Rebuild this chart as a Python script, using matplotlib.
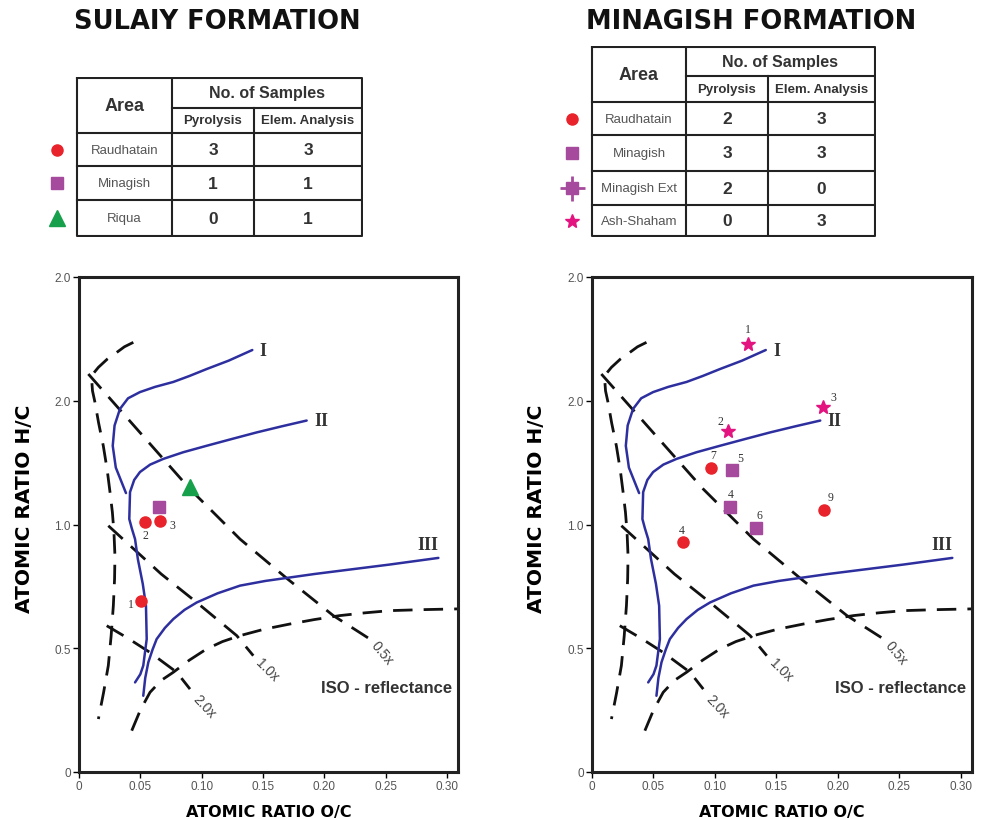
import matplotlib
matplotlib.use("Agg")
import matplotlib.pyplot as plt

plt.rcParams['font.family'] = ['Liberation Sans', 'DejaVu Sans']

# ---- table data ----
sul_areas = ["Raudhatain", "Minagish", "Riqua"]
sul_pyro = [3, 1, 0]
sul_elem = [3, 1, 1]
min_areas = ["Raudhatain", "Minagish", "Minagish Ext", "Ash-Shaham"]
min_pyro = [2, 3, 2, 0]
min_elem = [3, 3, 0, 3]

# ---- van Krevelen reference curves (O/C, H/C) ----
type1_x = [0.0383, 0.0300, 0.0275, 0.0290, 0.0334, 0.0400, 0.0497, 0.0620, 0.0769, 0.0900, 0.1040, 0.1220, 0.1413]
type1_y = [1.127, 1.230, 1.318, 1.400, 1.467, 1.510, 1.535, 1.556, 1.576, 1.600, 1.628, 1.662, 1.705]
type2_x = [0.0457, 0.0500, 0.0524, 0.0552, 0.0546, 0.0520, 0.0480, 0.0457, 0.0430, 0.0410, 0.0416, 0.0450,
           0.0497, 0.0580, 0.0687, 0.0850, 0.1040, 0.1250, 0.1448, 0.1656, 0.1856]
type2_y = [0.362, 0.395, 0.430, 0.537, 0.672, 0.760, 0.860, 0.941, 0.985, 1.022, 1.131, 1.180,
           1.212, 1.242, 1.265, 1.292, 1.318, 1.346, 1.372, 1.397, 1.420]
type3_x = [0.0524, 0.0540, 0.0565, 0.0600, 0.0633, 0.0700, 0.0769, 0.0860, 0.0960, 0.1130, 0.1313, 0.1520,
           0.1720, 0.1920, 0.2128, 0.2530, 0.2930]
type3_y = [0.308, 0.380, 0.443, 0.495, 0.537, 0.582, 0.618, 0.655, 0.685, 0.722, 0.753, 0.772,
           0.786, 0.800, 0.813, 0.838, 0.865]

# ---- dashed boundaries and iso-reflectance lines ----
bound_top_x = [0.0443, 0.0370, 0.0307, 0.0230, 0.0158, 0.0120, 0.0103, 0.0110, 0.0130, 0.0160, 0.0198, 0.0230,
               0.0253, 0.0272, 0.0285, 0.0293, 0.0290, 0.0280, 0.0262, 0.0239, 0.0200, 0.0158]
bound_top_y = [1.736, 1.718, 1.695, 1.668, 1.635, 1.612, 1.588, 1.540, 1.494, 1.410, 1.318, 1.220,
               1.130, 1.050, 0.968, 0.874, 0.780, 0.672, 0.550, 0.430, 0.320, 0.214]
bound_low_x = [0.0430, 0.0500, 0.0579, 0.0670, 0.0769, 0.0900, 0.1040, 0.1170, 0.1313, 0.1510, 0.1720, 0.1920,
               0.2128, 0.2330, 0.2535, 0.2800, 0.3090]
bound_low_y = [0.167, 0.250, 0.322, 0.370, 0.403, 0.452, 0.497, 0.527, 0.551, 0.577, 0.598, 0.616,
               0.632, 0.643, 0.652, 0.656, 0.659]
iso05_x = [0.0076, 0.0500, 0.0905, 0.1313, 0.1700, 0.2073, 0.2372]
iso05_y = [1.608, 1.370, 1.143, 0.941, 0.780, 0.632, 0.537]
iso10_x = [0.0239, 0.0389, 0.0670, 0.0960, 0.1286, 0.1421]
iso10_y = [0.995, 0.927, 0.800, 0.685, 0.551, 0.470]
iso20_x = [0.0226, 0.0400, 0.0579, 0.0797, 0.0905]
iso20_y = [0.591, 0.540, 0.483, 0.403, 0.335]

# ---- samples ----
sul_raud_x = [0.0503, 0.0538, 0.0660]
sul_raud_y = [0.692, 1.009, 1.015]
sul_raud_lab = ["1", "2", "3"]
sul_raud_off = [(-10, -3), (0, -13), (12, -4)]
sul_min_x = [0.0655]
sul_min_y = [1.069]
sul_riq_x = [0.0905]
sul_riq_y = [1.150]

min_raud_x = [0.0965, 0.1886, 0.0737]
min_raud_y = [1.227, 1.060, 0.928]
min_raud_lab = ["7", "9", "4"]
min_raud_off = [(3, 13), (7, 13), (-1, 12)]
min_min_x = [0.1136, 0.1122, 0.1331]
min_min_y = [1.220, 1.069, 0.984]
min_min_lab = ["5", "4", "6"]
min_min_off = [(9, 12), (1, 13), (4, 13)]
min_ash_x = [0.1271, 0.1108, 0.1880]
min_ash_y = [1.729, 1.377, 1.473]
min_ash_lab = ["1", "2", "3"]
min_ash_off = [(0, 15), (-8, 10), (10, 10)]

xticks = [0, 0.05, 0.10, 0.15, 0.20, 0.25, 0.30]
xtick_labels = ["0", "0.05", "0.10", "0.15", "0.20", "0.25", "0.30"]
yticks = [0, 0.5, 1.0, 1.5, 2.0]
ytick_labels = ["0", "0.5", "1.0", "2.0", "2.0"]

RED = '#e8232b'
PURPLE = '#a54a9c'
GREEN = '#16a04b'
PINK = '#e3137f'
BLUE = '#2e2f9f'

W, H = 982, 820
fig = plt.figure(figsize=(W / 100, H / 100), dpi=100)


def px_axes(x0, y0, x1, y1):
    return fig.add_axes([x0 / W, 1 - y1 / H, (x1 - x0) / W, (y1 - y0) / H])


def draw_table(ax, cols, rows, areas, pyro, elem, markers):
    lw = 1.5
    left, c1, c2, right = cols
    top, sub = rows[0], rows[1]
    bottom = rows[-1]
    ax.set_xlim(cols[0] - 40, right + 1)
    ax.set_ylim(bottom + 1, top - 1)
    ax.axis('off')
    # outer frame + vertical dividers
    ax.plot([left, right, right, left, left], [top, top, bottom, bottom, top], color='#222', lw=lw)
    ax.plot([c1, c1], [top, bottom], color='#222', lw=lw)
    ax.plot([c2, c2], [sub, bottom], color='#222', lw=lw)
    ax.plot([c1, right], [sub, sub], color='#222', lw=lw)
    for r in rows[2:-1]:
        ax.plot([left, right], [r, r], color='#222', lw=lw)
    ax.text((left + c1) / 2, (top + rows[2]) / 2, "Area", ha='center', va='center',
            fontsize=13, fontweight='bold', color='#333')
    ax.text((c1 + right) / 2, (top + sub) / 2, "No. of Samples", ha='center', va='center',
            fontsize=11.5, fontweight='bold', color='#333')
    ax.text((c1 + c2) / 2, (sub + rows[2]) / 2, "Pyrolysis", ha='center', va='center',
            fontsize=9.5, fontweight='bold', color='#333')
    ax.text((c2 + right) / 2, (sub + rows[2]) / 2, "Elem. Analysis", ha='center', va='center',
            fontsize=9.5, fontweight='bold', color='#333')
    for i, name in enumerate(areas):
        yc = (rows[i + 2] + rows[i + 3]) / 2
        ax.text((left + c1) / 2, yc, name, ha='center', va='center', fontsize=9.5, color='#555')
        ax.text((c1 + c2) / 2, yc, str(pyro[i]), ha='center', va='center',
                fontsize=12.5, fontweight='bold', color='#333')
        ax.text((c2 + right) / 2, yc, str(elem[i]), ha='center', va='center',
                fontsize=12.5, fontweight='bold', color='#333')
        for m in markers[i]:
            ax.plot(left - 20, yc, clip_on=False, **m)


def draw_reference(ax):
    ax.set_xlim(0, 0.309)
    ax.set_ylim(0, 2.0)
    for s in ax.spines.values():
        s.set_linewidth(2.2)
        s.set_color('#222')
    ax.set_xticks(xticks)
    ax.set_xticklabels(xtick_labels)
    ax.set_yticks(yticks)
    ax.set_yticklabels(ytick_labels)
    ax.tick_params(direction='out', length=4, width=1, labelsize=8.5, labelcolor='#555', pad=2)
    dash = dict(color='#111', lw=2, dashes=(7, 4))
    ax.plot(bound_top_x, bound_top_y, **dash)
    ax.plot(bound_low_x, bound_low_y, **dash)
    ax.plot(iso05_x, iso05_y, **dash)
    ax.plot(iso10_x, iso10_y, **dash)
    ax.plot(iso20_x, iso20_y, **dash)
    for cx, cy in [(type1_x, type1_y), (type2_x, type2_y), (type3_x, type3_y)]:
        ax.plot(cx, cy, color=BLUE, lw=1.8, solid_capstyle='round')
    serif = dict(family='Liberation Serif', fontweight='bold', fontsize=13, color='#333')
    ax.text(type1_x[-1] + 0.006, type1_y[-1], "I", va='center', ha='left', **serif)
    ax.text(type2_x[-1] + 0.006, type2_y[-1], "II", va='center', ha='left', **serif)
    ax.text(type3_x[-1], type3_y[-1] + 0.02, "III", va='bottom', ha='right', **serif)
    ax.text(iso05_x[-1] + 0.003, iso05_y[-1] - 0.015, "0.5x", rotation=-50, rotation_mode='anchor',
            ha='left', va='center', fontsize=10, color='#444')
    ax.text(iso10_x[-1] + 0.004, iso10_y[-1] - 0.02, "1.0x", rotation=-45, rotation_mode='anchor',
            ha='left', va='center', fontsize=10, color='#444')
    ax.text(iso20_x[-1] + 0.004, iso20_y[-1] - 0.03, "2.0x", rotation=-47, rotation_mode='anchor',
            ha='left', va='center', fontsize=10, color='#444')
    ax.text(0.2508, 0.342, "ISO - reflectance", ha='center', va='center', fontsize=12,
            fontweight='bold', color='#333')
    ax.set_xlabel("ATOMIC RATIO O/C", fontsize=11.5, fontweight='bold', family='DejaVu Sans', va='center')
    ax.xaxis.set_label_coords(0.5, -0.079)
    ax.set_ylabel("ATOMIC RATIO H/C", fontsize=14.5, fontweight='bold', family='DejaVu Sans', va='center')
    ax.yaxis.set_label_coords(-0.145, 0.533)


def label_points(ax, xs, ys, labs, offs):
    for x, y, t, o in zip(xs, ys, labs, offs):
        ax.annotate(t, (x, y), xytext=o, textcoords='offset pixels', ha='center', va='center',
                    fontsize=8.5, family='Liberation Serif', color='#333')


circle = dict(marker='o', ms=8, color=RED, mec=RED, ls='none')
square = dict(marker='s', ms=8, color=PURPLE, mec=PURPLE, ls='none')
tri = dict(marker='^', ms=11, color=GREEN, mec=GREEN, ls='none')
star = dict(marker='*', ms=10, color=PINK, mec=PINK, ls='none')
ext_sq = dict(marker='s', ms=8, color=PURPLE, mec=PURPLE, ls='none')
ext_plus = dict(marker='+', ms=18, mew=2, color=PURPLE, ls='none')

# titles
title_font = dict(ha='center', va='center', fontsize=18.5, fontweight='bold', family='DejaVu Sans', color='#111')
fig.text(217 / W, 1 - 22 / H, "SULAIY FORMATION", **title_font)
fig.text(751 / W, 1 - 22 / H, "MINAGISH FORMATION", **title_font)

# tables
tl = px_axes(37, 78, 363, 238)
draw_table(tl, [77, 172, 254, 362], [78, 108, 134, 167, 202, 238],
           sul_areas, sul_pyro, sul_elem, [[circle], [square], [tri]])
tr = px_axes(552, 47, 876, 238)
draw_table(tr, [592, 686, 768, 875], [47, 76, 103, 136, 172, 207, 238],
           min_areas, min_pyro, min_elem, [[circle], [square], [ext_plus, ext_sq], [star]])

# left diagram
axl = px_axes(79, 278, 458, 773)
draw_reference(axl)
axl.plot(sul_raud_x, sul_raud_y, **circle)
axl.plot(sul_min_x, sul_min_y, **square)
axl.plot(sul_riq_x, sul_riq_y, **tri)
label_points(axl, sul_raud_x, sul_raud_y, sul_raud_lab, sul_raud_off)

# right diagram
axr = px_axes(592, 278, 972, 773)
draw_reference(axr)
axr.plot(min_raud_x, min_raud_y, **circle)
axr.plot(min_min_x, min_min_y, **square)
axr.plot(min_ash_x, min_ash_y, **star)
label_points(axr, min_raud_x, min_raud_y, min_raud_lab, min_raud_off)
label_points(axr, min_min_x, min_min_y, min_min_lab, min_min_off)
label_points(axr, min_ash_x, min_ash_y, min_ash_lab, min_ash_off)

fig.savefig("out.png", dpi=100)
